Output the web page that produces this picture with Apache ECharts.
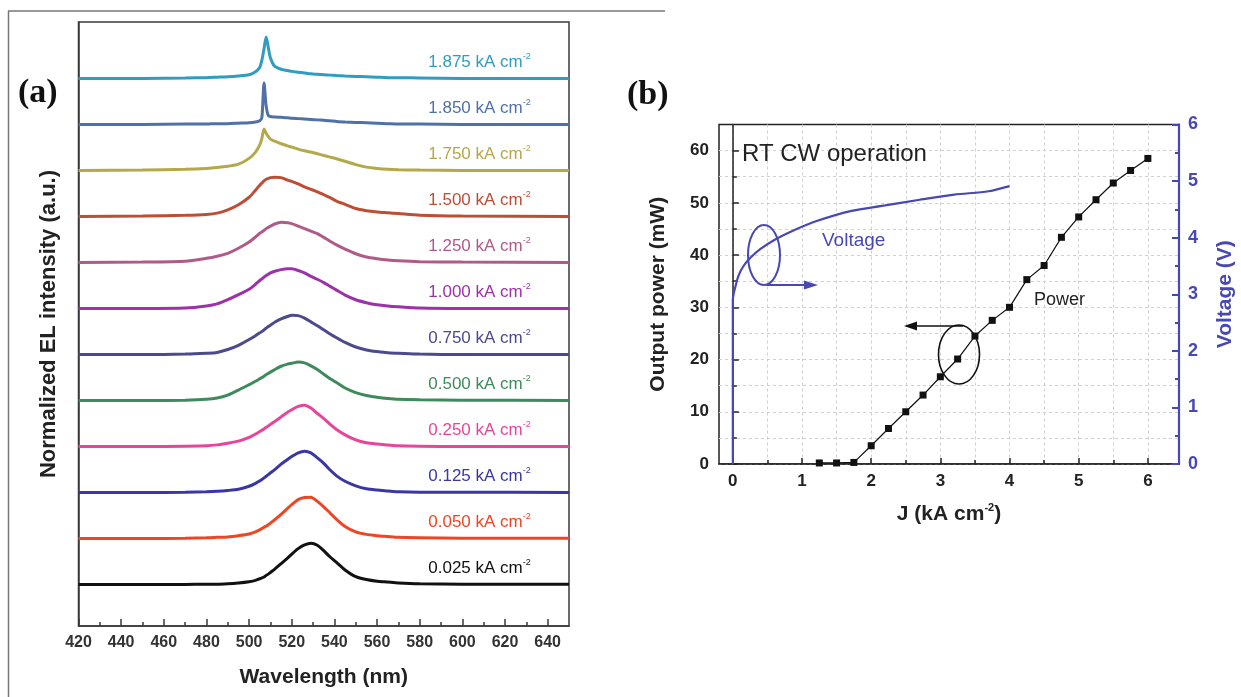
<!DOCTYPE html>
<html>
<head>
<meta charset="utf-8">
<script src="https://cdn.jsdelivr.net/npm/echarts@6/dist/echarts.min.js"></script>
<style>
  html, body { margin: 0; background: #fff; }
  #chart { width: 1241px; height: 697px; }
</style>
</head>
<body>
<div id="chart"></div>
<script>
// ---- panel (a): EL spectra, normalized ----
var wavelength = [420, 450, 470, 480, 485, 490, 495, 500, 503, 505, 506, 507, 508, 509, 510, 512, 515, 518, 520, 523,
  526, 529, 532, 535, 538, 541, 545, 550, 555, 560, 565, 570, 580, 600, 650]
var currentLabels = ['0.025', '0.050', '0.125', '0.250', '0.500', '0.750', '1.000', '1.250', '1.500', '1.750', '1.850', '1.875']
var spectrumColors = ['#111111', '#ef4524', '#3a36a6', '#e8459a', '#3f8a5c', '#4c4a8c', '#9c32a8', '#b05a88',
  '#bd4d35', '#b4a84a', '#5071a8', '#2f9cc0']
// vertical offset of each trace (stacked plot)
var offsets = [0.98, 2.08, 3.18, 4.28, 5.38, 6.48, 7.58, 8.68, 9.78, 10.88, 11.98, 13.08]

var el0025 = [0.01, 0.01, 0.015, 0.02, 0.02, 0.03, 0.05, 0.08, 0.11, 0.15, 0.17, 0.19, 0.23, 0.26, 0.3, 0.38, 0.51, 0.64, 0.74, 0.87,
  0.96, 1.0, 0.95, 0.82, 0.67, 0.54, 0.36, 0.2, 0.13, 0.09, 0.07, 0.05, 0.03, 0.02, 0.02]
var el0050 = [0.01, 0.01, 0.02, 0.03, 0.04, 0.05, 0.08, 0.12, 0.17, 0.22, 0.25, 0.28, 0.31, 0.34, 0.38, 0.46, 0.59, 0.73, 0.82, 0.94,
  0.99, 1.0, 0.9, 0.77, 0.62, 0.47, 0.3, 0.17, 0.11, 0.08, 0.06, 0.04, 0.03, 0.02, 0.02]
var el0125 = [0.01, 0.01, 0.02, 0.03, 0.04, 0.06, 0.09, 0.16, 0.23, 0.29, 0.32, 0.36, 0.4, 0.44, 0.48, 0.56, 0.69, 0.8, 0.87, 0.96,
  1.0, 0.96, 0.84, 0.71, 0.55, 0.41, 0.28, 0.17, 0.1, 0.07, 0.05, 0.03, 0.02, 0.02, 0.01]
var el0250 = [0.01, 0.01, 0.02, 0.03, 0.05, 0.09, 0.14, 0.23, 0.31, 0.37, 0.4, 0.43, 0.47, 0.5, 0.54, 0.61, 0.72, 0.83, 0.89, 0.97,
  1.0, 0.93, 0.8, 0.68, 0.54, 0.42, 0.29, 0.17, 0.1, 0.07, 0.05, 0.03, 0.02, 0.01, 0.01]
var el0500 = [0.01, 0.01, 0.02, 0.04, 0.07, 0.14, 0.26, 0.39, 0.47, 0.53, 0.56, 0.59, 0.63, 0.66, 0.69, 0.75, 0.83, 0.88, 0.9, 0.93,
  0.91, 0.84, 0.75, 0.64, 0.53, 0.44, 0.31, 0.2, 0.13, 0.09, 0.06, 0.04, 0.03, 0.02, 0.01]
var el0750 = [0.01, 0.01, 0.02, 0.04, 0.06, 0.13, 0.23, 0.37, 0.46, 0.53, 0.56, 0.6, 0.64, 0.68, 0.71, 0.78, 0.86, 0.92, 0.95, 0.94,
  0.88, 0.79, 0.7, 0.6, 0.5, 0.41, 0.3, 0.19, 0.12, 0.08, 0.05, 0.04, 0.02, 0.01, 0.01]
var el1000 = [0.01, 0.01, 0.02, 0.07, 0.12, 0.22, 0.34, 0.47, 0.59, 0.68, 0.72, 0.76, 0.8, 0.83, 0.86, 0.9, 0.94, 0.96, 0.96, 0.92,
  0.86, 0.78, 0.71, 0.63, 0.54, 0.45, 0.33, 0.22, 0.15, 0.1, 0.07, 0.05, 0.02, 0.01, 0.01]
var el1250 = [0.01, 0.02, 0.04, 0.11, 0.16, 0.23, 0.35, 0.5, 0.62, 0.71, 0.74, 0.78, 0.82, 0.85, 0.88, 0.93, 0.97, 0.96, 0.94, 0.88,
  0.82, 0.76, 0.7, 0.61, 0.52, 0.43, 0.33, 0.22, 0.14, 0.1, 0.07, 0.05, 0.03, 0.02, 0.01]
var el1500 = [0.01, 0.02, 0.04, 0.06, 0.09, 0.17, 0.29, 0.47, 0.64, 0.76, 0.81, 0.86, 0.9, 0.92, 0.94, 0.95, 0.94, 0.88, 0.85, 0.79,
  0.72, 0.66, 0.6, 0.53, 0.46, 0.38, 0.3, 0.2, 0.15, 0.12, 0.1, 0.08, 0.04, 0.02, 0.01]
var el1750 = [0.01, 0.02, 0.04, 0.06, 0.08, 0.11, 0.16, 0.3, 0.45, 0.62, 0.78, 1.0, 0.9, 0.82, 0.76, 0.71, 0.65, 0.6, 0.57, 0.52,
  0.48, 0.45, 0.41, 0.37, 0.33, 0.29, 0.23, 0.15, 0.09, 0.06, 0.04, 0.03, 0.02, 0.01, 0.01]
var el1850 = [0.01, 0.01, 0.02, 0.02, 0.03, 0.03, 0.04, 0.05, 0.07, 0.1, 0.18, 1.0, 0.45, 0.22, 0.2, 0.19, 0.18, 0.17, 0.16, 0.15,
  0.14, 0.13, 0.12, 0.11, 0.1, 0.08, 0.07, 0.06, 0.05, 0.04, 0.03, 0.02, 0.02, 0.01, 0.01]
var el1875 = [0.01, 0.01, 0.02, 0.03, 0.04, 0.05, 0.07, 0.1, 0.17, 0.28, 0.45, 0.72, 1.0, 0.75, 0.5, 0.3, 0.23, 0.2, 0.18, 0.16,
  0.14, 0.12, 0.11, 0.1, 0.09, 0.08, 0.07, 0.06, 0.05, 0.04, 0.03, 0.03, 0.02, 0.01, 0.01]
var spectra = [el0025, el0050, el0125, el0250, el0500, el0750, el1000, el1250, el1500, el1750, el1850, el1875]
var wlTicks = [420, 440, 460, 480, 500, 520, 540, 560, 580, 600, 620, 640]
var wlMinorTicks = [430, 450, 470, 490, 510, 530, 550, 570, 590, 610, 630]

// ---- panel (b): L-I-V ----
var powerJ = [1.25, 1.5, 1.75, 2.0, 2.25, 2.5, 2.75, 3.0, 3.25, 3.5, 3.75, 4.0, 4.25, 4.5, 4.75, 5.0, 5.25, 5.5, 5.75, 6.0]
var powerMW = [0.2, 0.2, 0.3, 3.5, 6.8, 10.0, 13.2, 16.7, 20.1, 24.5, 27.5, 30.0, 35.3, 38.0, 43.4, 47.3, 50.6, 53.8, 56.2, 58.5]
var voltJ = [0, 0, 0.01, 0.03, 0.08, 0.15, 0.25, 0.4, 0.6, 0.9, 1.2, 1.7, 2.2, 2.7, 3.2, 3.7, 4.0]
var voltV = [0, 2.9, 3.0, 3.1, 3.32, 3.49, 3.64, 3.8, 3.96, 4.14, 4.29, 4.47, 4.57, 4.67, 4.76, 4.82, 4.91]
var jTicks = [0, 1, 2, 3, 4, 5, 6]
var jMinorTicks = [0.5, 1.5, 2.5, 3.5, 4.5, 5.5]
var pTicks = [0, 10, 20, 30, 40, 50, 60]
var pMinorTicks = [5, 15, 25, 35, 45, 55]

var FONT = '"Liberation Sans", Arial, sans-serif'
var BLUE = '#4848b4'
var chart = echarts.init(document.getElementById('chart'))

var gridLine = { show: true, lineStyle: { color: '#d0d0d0', type: [3, 3], width: 1 } }

var series = spectra.map(function(vals, i) {
  return {
    name: currentLabels[i],
    type: 'line',
    xAxisIndex: 0,
    yAxisIndex: 0,
    symbol: 'none',
    smooth: 0.25,
    lineStyle: { color: spectrumColors[i], width: 3 },
    data: wavelength.map(function(w, k) { return [w, vals[k] + offsets[i]] }),
    z: 3
  }
})
series.push({
  name: 'Voltage',
  type: 'line',
  xAxisIndex: 2,
  yAxisIndex: 3,
  symbol: 'none',
  smooth: 0.3,
  lineStyle: { color: BLUE, width: 2.2 },
  data: voltJ.map(function(j, k) { return [j, voltV[k]] }),
  z: 4
})
series.push({
  name: 'Power',
  type: 'line',
  xAxisIndex: 2,
  yAxisIndex: 1,
  symbol: 'rect',
  symbolSize: 7,
  itemStyle: { color: '#111' },
  lineStyle: { color: '#111', width: 1.2 },
  data: powerJ.map(function(j, k) { return [j, powerMW[k]] }),
  z: 5
})

chart.setOption({
  animation: false,
  backgroundColor: '#fff',
  textStyle: { fontFamily: FONT },
  grid: [
    { left: 78.5, top: 22, width: 490.5, height: 604, show: true, borderColor: '#3a3a3a', borderWidth: 1.5 },
    { left: 719, top: 124.5, width: 460, height: 339.5, show: true, borderColor: '#222', borderWidth: 1.5 }
  ],
  xAxis: [
    {
      gridIndex: 0, type: 'value', position: 'bottom', min: 420, max: 650,
      axisLine: { lineStyle: { color: '#3a3a3a', width: 1.5 } },
      axisTick: { inside: true, length: 7, customValues: wlTicks, lineStyle: { color: '#3a3a3a', width: 1.5 } },
      axisLabel: { customValues: wlTicks, fontSize: 16, fontWeight: 'bold', color: '#333', margin: 9 },
      splitLine: { show: false },
      name: 'Wavelength (nm)', nameLocation: 'middle', nameGap: 41,
      nameTextStyle: { fontSize: 21, fontWeight: 'bold', color: '#222' }
    },
    {
      gridIndex: 0, type: 'value', position: 'bottom', min: 420, max: 650,
      axisLine: { show: false },
      axisTick: { inside: true, length: 4, customValues: wlMinorTicks, lineStyle: { color: '#3a3a3a', width: 1.5 } },
      axisLabel: { show: false },
      splitLine: { show: false }
    },
    {
      gridIndex: 1, type: 'value', position: 'bottom', min: -0.2, max: 6.45,
      axisLine: { lineStyle: { color: '#222', width: 1.5 } },
      axisTick: { inside: true, length: 6, customValues: jTicks, lineStyle: { color: '#222', width: 1.5 } },
      axisLabel: { customValues: jTicks, fontSize: 17, fontWeight: 'bold', color: '#222', margin: 9 },
      splitLine: gridLine,
      name: '{n|J (kA cm}{s|-2}{n|)}', nameLocation: 'middle', nameGap: 38,
      nameTextStyle: {
        rich: {
          n: { fontSize: 21, fontWeight: 'bold', color: '#222', fontFamily: FONT, lineHeight: 24 },
          s: { fontSize: 11, fontWeight: 'bold', color: '#222', fontFamily: FONT, verticalAlign: 'top', lineHeight: 12 }
        }
      }
    },
    {
      gridIndex: 1, type: 'value', position: 'bottom', min: -0.2, max: 6.45,
      axisLine: { show: false },
      axisTick: { inside: true, length: 4, customValues: jMinorTicks, lineStyle: { color: '#222', width: 1.5 } },
      axisLabel: { show: false },
      splitLine: gridLine
    }
  ],
  yAxis: [
    {
      gridIndex: 0, type: 'value', position: 'left', min: 0, max: 14.44,
      axisLine: { show: true, lineStyle: { color: '#3a3a3a', width: 1.5 } },
      axisTick: { show: false },
      axisLabel: { show: false },
      splitLine: { show: false },
      name: 'Normalized EL intensity (a.u.)', nameLocation: 'middle', nameGap: 19, nameRotate: 90,
      nameTextStyle: { fontSize: 22, fontWeight: 'bold', color: '#222' }
    },
    {
      gridIndex: 1, type: 'value', position: 'left', min: 0, max: 65,
      axisLine: { show: true, lineStyle: { color: '#222', width: 1.5 } },
      axisTick: { inside: true, length: 6, customValues: pTicks, lineStyle: { color: '#222', width: 1.5 } },
      axisLabel: { customValues: pTicks, fontSize: 17, fontWeight: 'bold', color: '#222', margin: 10 },
      splitLine: gridLine,
      name: 'Output power (mW)', nameLocation: 'middle', nameGap: 50, nameRotate: 90,
      nameTextStyle: { fontSize: 21, fontWeight: 'bold', color: '#222' }
    },
    {
      gridIndex: 1, type: 'value', position: 'left', min: 0, max: 65,
      axisLine: { show: false },
      axisTick: { inside: true, length: 4, customValues: pMinorTicks, lineStyle: { color: '#222', width: 1.5 } },
      axisLabel: { show: false },
      splitLine: gridLine
    },
    {
      gridIndex: 1, type: 'value', position: 'right', min: 0, max: 6, interval: 1,
      axisLine: { show: true, lineStyle: { color: BLUE, width: 2.2 } },
      axisTick: { inside: true, length: 7, lineStyle: { color: BLUE, width: 2 } },
      minorTick: { show: true, splitNumber: 2, length: 4, lineStyle: { color: BLUE, width: 2 } },
      axisLabel: { fontSize: 18, fontWeight: 'bold', color: BLUE, margin: 9 },
      splitLine: { show: false },
      name: 'Voltage (V)', nameLocation: 'middle', nameGap: 36, nameRotate: 90,
      nameTextStyle: { fontSize: 21, fontWeight: 'bold', color: BLUE }
    }
  ],
  series: series
})

// current-density labels over each spectrum
var graphics = []
currentLabels.forEach(function(lbl, i) {
  var p = chart.convertToPixel({ gridIndex: 0 }, [584, offsets[i] + 0.4])
  graphics.push({
    type: 'text', x: p[0], y: p[1], z: 10,
    style: {
      text: '{t|' + lbl + ' kA cm}{s|-2}',
      fill: spectrumColors[i],
      verticalAlign: 'middle',
      rich: {
        t: { fontSize: 17, fontFamily: FONT, lineHeight: 20 },
        s: { fontSize: 9, fontFamily: FONT, verticalAlign: 'top', lineHeight: 12 }
      }
    }
  })
})

// frame around the figure
graphics.push({ type: 'line', shape: { x1: 8.5, y1: 11, x2: 8.5, y2: 697 }, style: { stroke: '#777', lineWidth: 1.5 } })
graphics.push({ type: 'line', shape: { x1: 8, y1: 11, x2: 665, y2: 11 }, style: { stroke: '#777', lineWidth: 1.5 } })

// panel letters
graphics.push({ type: 'text', x: 18, y: 93, style: { text: '(a)', font: 'bold 34px "Liberation Serif", "Times New Roman", serif', fill: '#111', verticalAlign: 'middle' } })
graphics.push({ type: 'text', x: 627, y: 95, style: { text: '(b)', font: 'bold 34px "Liberation Serif", "Times New Roman", serif', fill: '#111', verticalAlign: 'middle' } })

// panel (b) annotations
graphics.push({ type: 'text', x: 742, y: 154, style: { text: 'RT CW operation', font: '24px ' + FONT, fill: '#222', verticalAlign: 'middle' } })
graphics.push({ type: 'text', x: 822, y: 241, style: { text: 'Voltage', font: '19px ' + FONT, fill: BLUE, verticalAlign: 'middle' } })
graphics.push({ type: 'text', x: 1034, y: 300, style: { text: 'Power', font: '18px ' + FONT, fill: '#222', verticalAlign: 'middle' } })
graphics.push({ type: 'ellipse', shape: { cx: 764, cy: 255, rx: 16, ry: 30 }, style: { fill: 'none', stroke: BLUE, lineWidth: 2 }, z: 10 })
graphics.push({ type: 'line', shape: { x1: 766, y1: 285, x2: 808, y2: 285 }, style: { stroke: BLUE, lineWidth: 2 }, z: 10 })
graphics.push({ type: 'polygon', shape: { points: [[818, 285], [804, 280.5], [804, 289.5]] }, style: { fill: BLUE }, z: 10 })
graphics.push({ type: 'ellipse', shape: { cx: 959, cy: 354.5, rx: 20.5, ry: 29.5 }, style: { fill: 'none', stroke: '#111', lineWidth: 1.6 }, z: 10 })
graphics.push({ type: 'line', shape: { x1: 963, y1: 326, x2: 913, y2: 326 }, style: { stroke: '#111', lineWidth: 1.6 }, z: 10 })
graphics.push({ type: 'polygon', shape: { points: [[904, 326], [917, 321.5], [917, 330.5]] }, style: { fill: '#111' }, z: 10 })

chart.setOption({ graphic: graphics })
</script>
</body>
</html>
